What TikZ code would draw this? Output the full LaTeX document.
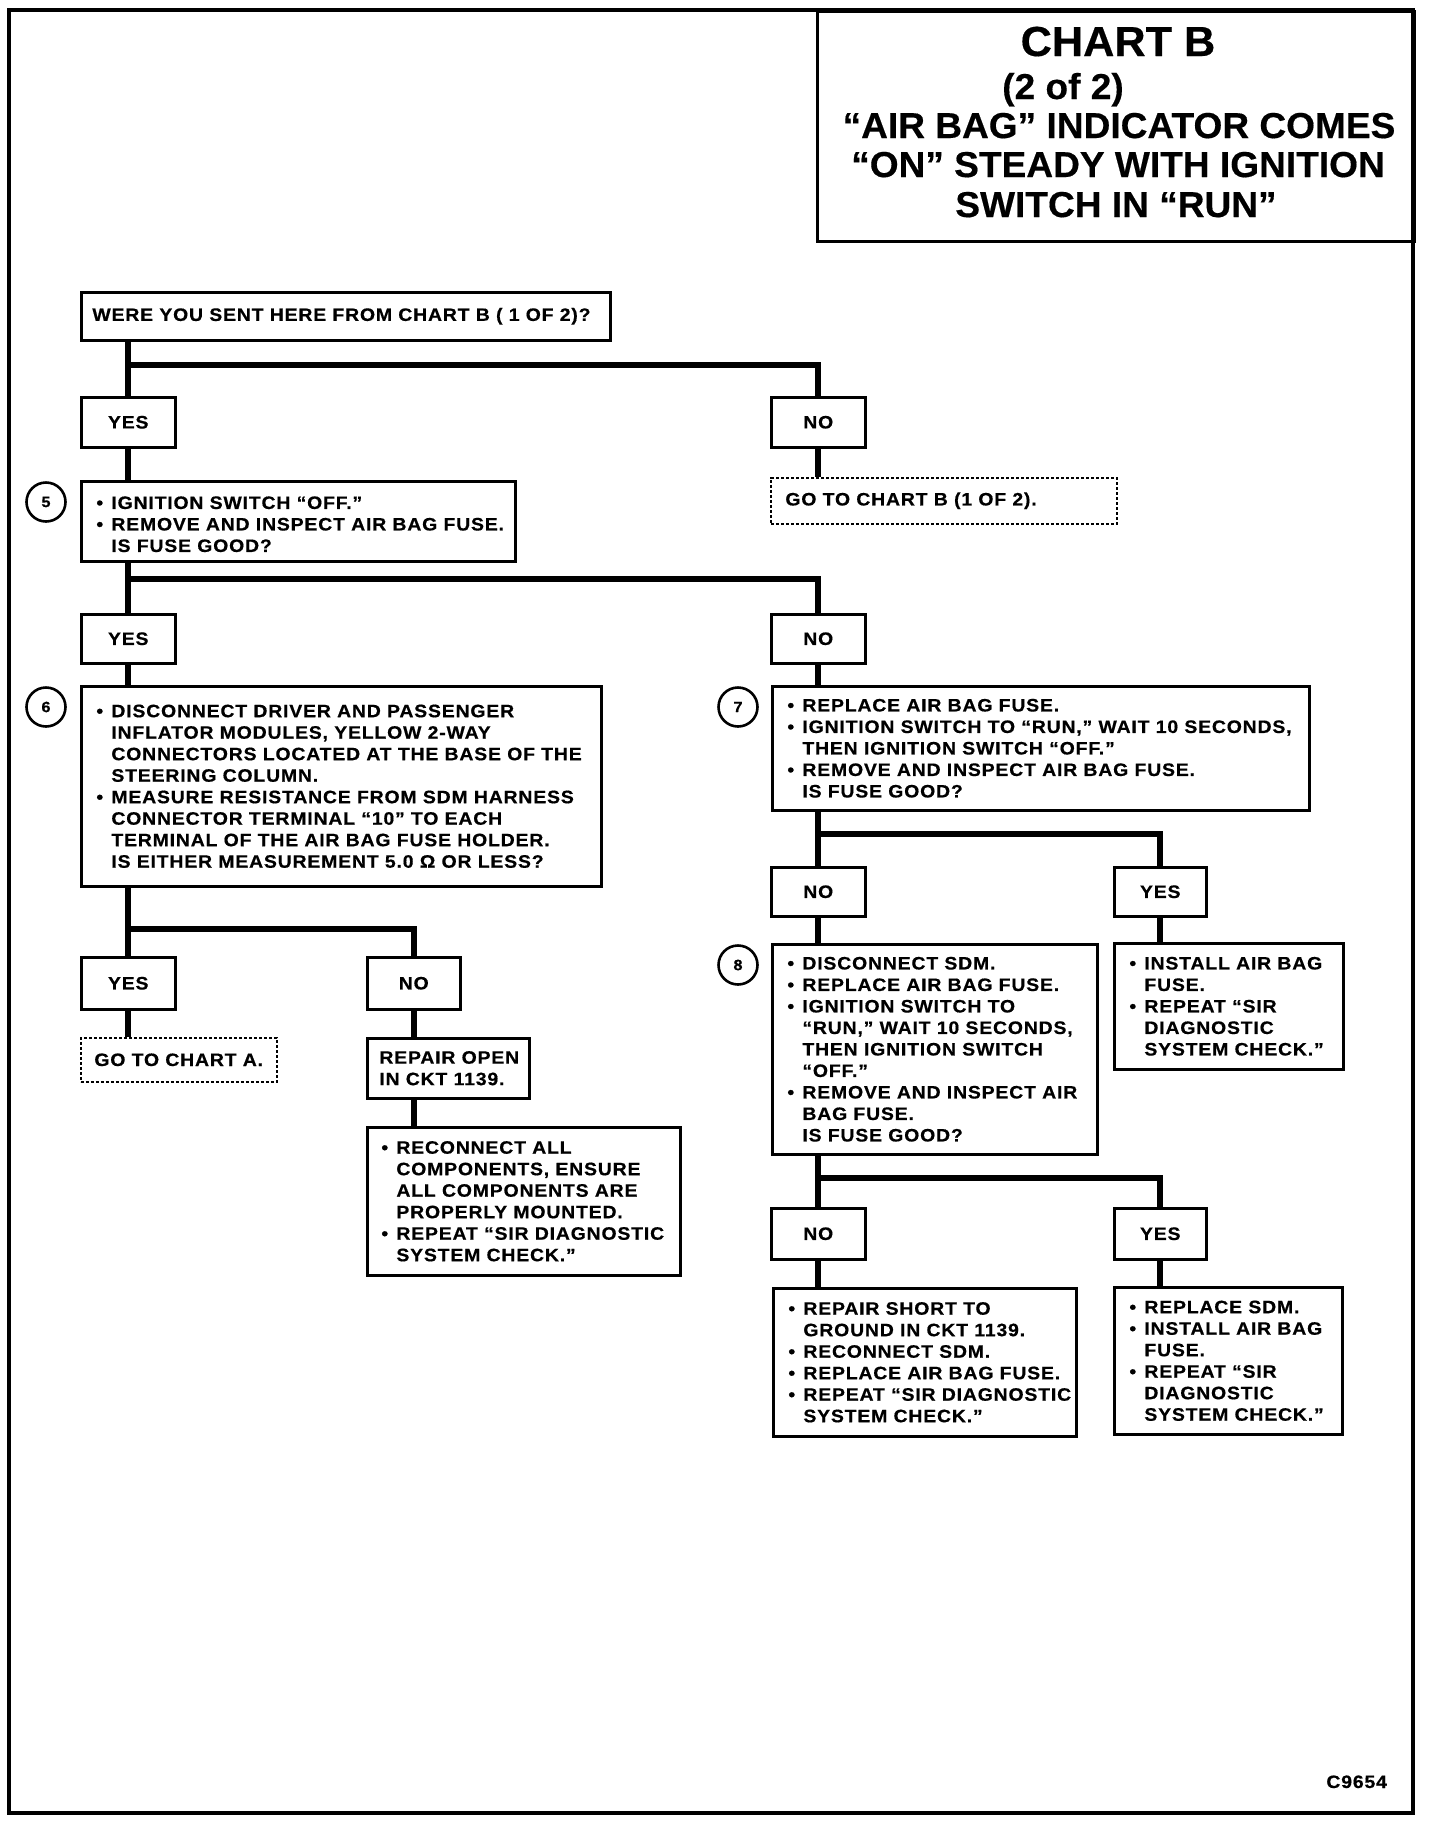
\documentclass[tikz,border=0pt]{standalone}
\usepackage{fontspec}
\newfontfamily\bodyfont{Liberation Sans Bold}[FakeStretch=1.08,LetterSpace=4.5,FakeBold=0.5]
\newfontfamily\titlefont{Liberation Sans Bold}[FakeStretch=1.03,FakeBold=0.4]
\newcommand\bulx{\makebox[7.5pt][l]{•}}
\newcommand\indx{\hspace*{7.5pt}}
\tikzset{
  cbox/.style={draw, line width=1.25pt, rectangle, inner sep=0pt, anchor=north west,
    font=\bodyfont\fontsize{9pt}{10.75pt}\selectfont},
  dashbox/.style={draw, line width=0.8pt, dash pattern=on 1.6pt off 0.9pt, rectangle, inner sep=0pt, anchor=north west},
  wireln/.style={line width=3pt},
  btxt/.style={font=\bodyfont\fontsize{9pt}{10.75pt}\selectfont, align=left, anchor=west, inner sep=0pt},
  circnum/.style={draw, circle, line width=1.3pt, minimum size=19.5pt, inner sep=0pt,
    font=\bodyfont\fontsize{7.5pt}{8pt}\selectfont},
  ttl/.style={font=\titlefont\fontsize{18pt}{20pt}\selectfont, anchor=base, inner sep=0pt},
}
\begin{document}
\begin{tikzpicture}[x=0.5pt, y=-0.5pt]
\useasboundingbox (0,0) rectangle (1440,1826);
% frame
\draw[line width=2pt] (9,10) rectangle (1413,1813);
% title
\node[cbox, line width=1.5pt, minimum width=298.5pt, minimum height=115pt] (title) at (816,10) {};
\node[ttl, font=\titlefont\fontsize{21pt}{22pt}\selectfont] (tA) at (1118,56) {CHART B};
\node[ttl] (tB) at (1063,99) {(2 of 2)};
\node[ttl] (tC) at (1119,138) {“AIR BAG” INDICATOR COMES};
\node[ttl] (tD) at (1118,177) {“ON” STEADY WITH IGNITION};
\node[ttl] (tE) at (1116,217) {SWITCH IN “RUN”};

% boxes
\node[cbox, minimum width=264.5pt, minimum height=24pt] (were) at (80,291) {};
\node[btxt] (twere) at ([xshift=6pt]were.west) {WERE YOU SENT HERE FROM CHART B ( 1 OF 2)?};

\node[cbox, minimum width=47pt, minimum height=25pt] (yes1) at (80,396) {YES};
\node[cbox, minimum width=47pt, minimum height=25pt] (no1) at (770,396) {NO};

\node[dashbox, minimum width=173pt, minimum height=23pt] (gob) at (770,477) {};
\node[btxt] (tgob) at ([xshift=7.5pt]gob.west) {GO TO CHART B (1 OF 2).};

\node[cbox, minimum width=217pt, minimum height=40pt] (q5) at (80,480) {};
\node[btxt] (tq5) at ([xshift=8pt,yshift=-1.5pt]q5.west) {\bulx IGNITION SWITCH “OFF.”\\
\bulx REMOVE AND INSPECT AIR BAG FUSE.\\
\indx IS FUSE GOOD?};
\node[circnum] (c5) at (46,502) {5};

\node[cbox, minimum width=47pt, minimum height=24.5pt] (yes2) at (80,613) {YES};
\node[cbox, minimum width=47pt, minimum height=24.5pt] (no2) at (770,613) {NO};

\node[cbox, minimum width=260pt, minimum height=100pt] (q6) at (80,685) {};
\node[btxt] (tq6) at ([xshift=8pt]q6.west) {\bulx DISCONNECT DRIVER AND PASSENGER\\
\indx INFLATOR MODULES, YELLOW 2-WAY\\
\indx CONNECTORS LOCATED AT THE BASE OF THE\\
\indx STEERING COLUMN.\\
\bulx MEASURE RESISTANCE FROM SDM HARNESS\\
\indx CONNECTOR TERMINAL “10” TO EACH\\
\indx TERMINAL OF THE AIR BAG FUSE HOLDER.\\
\indx IS EITHER MEASUREMENT 5.0 Ω OR LESS?};
\node[circnum] (c6) at (46,707) {6};

\node[cbox, minimum width=268.5pt, minimum height=62pt] (q7) at (771,685) {};
\node[btxt] (tq7) at ([xshift=8pt]q7.west) {\bulx REPLACE AIR BAG FUSE.\\
\bulx IGNITION SWITCH TO “RUN,” WAIT 10 SECONDS,\\
\indx THEN IGNITION SWITCH “OFF.”\\
\bulx REMOVE AND INSPECT AIR BAG FUSE.\\
\indx IS FUSE GOOD?};
\node[circnum] (c7) at (738,707) {7};

\node[cbox, minimum width=47pt, minimum height=26pt] (yes3) at (80,956) {YES};
\node[cbox, minimum width=46.5pt, minimum height=26pt] (no3) at (366,956) {NO};

\node[dashbox, minimum width=98pt, minimum height=22pt] (goa) at (80,1037) {};
\node[btxt] (tgoa) at ([xshift=7pt]goa.west) {GO TO CHART A.};

\node[cbox, minimum width=81pt, minimum height=30pt] (rep1) at (366,1037) {};
\node[btxt] (trep1) at ([xshift=6.5pt]rep1.west) {REPAIR OPEN\\IN CKT 1139.};

\node[cbox, minimum width=156.5pt, minimum height=74pt] (rec) at (366,1126) {};
\node[btxt] (trec) at ([xshift=7.5pt]rec.west) {\bulx RECONNECT ALL\\
\indx COMPONENTS, ENSURE\\
\indx ALL COMPONENTS ARE\\
\indx PROPERLY MOUNTED.\\
\bulx REPEAT “SIR DIAGNOSTIC\\
\indx SYSTEM CHECK.”};

\node[cbox, minimum width=47pt, minimum height=24.5pt] (no4) at (770,866) {NO};
\node[cbox, minimum width=46pt, minimum height=24.5pt] (yes4) at (1113,866) {YES};

\node[cbox, minimum width=162.5pt, minimum height=105pt] (q8) at (771,943) {};
\node[btxt] (tq8) at ([xshift=8pt]q8.west) {\bulx DISCONNECT SDM.\\
\bulx REPLACE AIR BAG FUSE.\\
\bulx IGNITION SWITCH TO\\
\indx “RUN,” WAIT 10 SECONDS,\\
\indx THEN IGNITION SWITCH\\
\indx “OFF.”\\
\bulx REMOVE AND INSPECT AIR\\
\indx BAG FUSE.\\
\indx IS FUSE GOOD?};
\node[circnum] (c8) at (738,965) {8};

\node[cbox, minimum width=114.5pt, minimum height=63pt] (inst) at (1113,942) {};
\node[btxt] (tinst) at ([xshift=8pt]inst.west) {\bulx INSTALL AIR BAG\\
\indx FUSE.\\
\bulx REPEAT “SIR\\
\indx DIAGNOSTIC\\
\indx SYSTEM CHECK.”};

\node[cbox, minimum width=47pt, minimum height=25.5pt] (no5) at (770,1207) {NO};
\node[cbox, minimum width=46pt, minimum height=25.5pt] (yes5) at (1113,1207) {YES};

\node[cbox, minimum width=151.5pt, minimum height=74pt] (rsh) at (772,1287) {};
\node[btxt] (trsh) at ([xshift=8pt]rsh.west) {\bulx REPAIR SHORT TO\\
\indx GROUND IN CKT 1139.\\
\bulx RECONNECT SDM.\\
\bulx REPLACE AIR BAG FUSE.\\
\bulx REPEAT “SIR DIAGNOSTIC\\
\indx SYSTEM CHECK.”};

\node[cbox, minimum width=114pt, minimum height=73.5pt] (rsdm) at (1113,1286) {};
\node[btxt] (trsdm) at ([xshift=8pt]rsdm.west) {\bulx REPLACE SDM.\\
\bulx INSTALL AIR BAG\\
\indx FUSE.\\
\bulx REPEAT “SIR\\
\indx DIAGNOSTIC\\
\indx SYSTEM CHECK.”};

\node[btxt, anchor=base west] (code) at (1326,1788) {C9654};

% connectors
\coordinate (br1) at (0,365);
\coordinate (br2) at (0,579);
\coordinate (br3) at (0,929);
\coordinate (br4) at (0,834);
\coordinate (br5) at (0,1178);

\draw[wireln] (yes1 |- were.south) -- (yes1.north);
\draw[wireln] (yes1 |- br1) -| (no1.north);
\draw[wireln] (yes1.south) -- (yes1 |- q5.north);
\draw[wireln] (no1.south) -- (no1 |- gob.north);

\draw[wireln] (yes2 |- q5.south) -- (yes2.north);
\draw[wireln] (yes2 |- br2) -| (no2.north);
\draw[wireln] (yes2.south) -- (yes2 |- q6.north);
\draw[wireln] (no2.south) -- (no2 |- q7.north);

\draw[wireln] (yes3 |- q6.south) -- (yes3.north);
\draw[wireln] (yes3 |- br3) -| (no3.north);
\draw[wireln] (yes3.south) -- (yes3 |- goa.north);
\draw[wireln] (no3.south) -- (no3 |- rep1.north);
\draw[wireln] (no3 |- rep1.south) -- (no3 |- rec.north);

\draw[wireln] (no4 |- q7.south) -- (no4.north);
\draw[wireln] (no4 |- br4) -| (yes4.north);
\draw[wireln] (no4.south) -- (no4 |- q8.north);
\draw[wireln] (yes4.south) -- (yes4 |- inst.north);

\draw[wireln] (no5 |- q8.south) -- (no5.north);
\draw[wireln] (no5 |- br5) -| (yes5.north);
\draw[wireln] (no5.south) -- (no5 |- rsh.north);
\draw[wireln] (yes5.south) -- (yes5 |- rsdm.north);
\end{tikzpicture}
\end{document}
